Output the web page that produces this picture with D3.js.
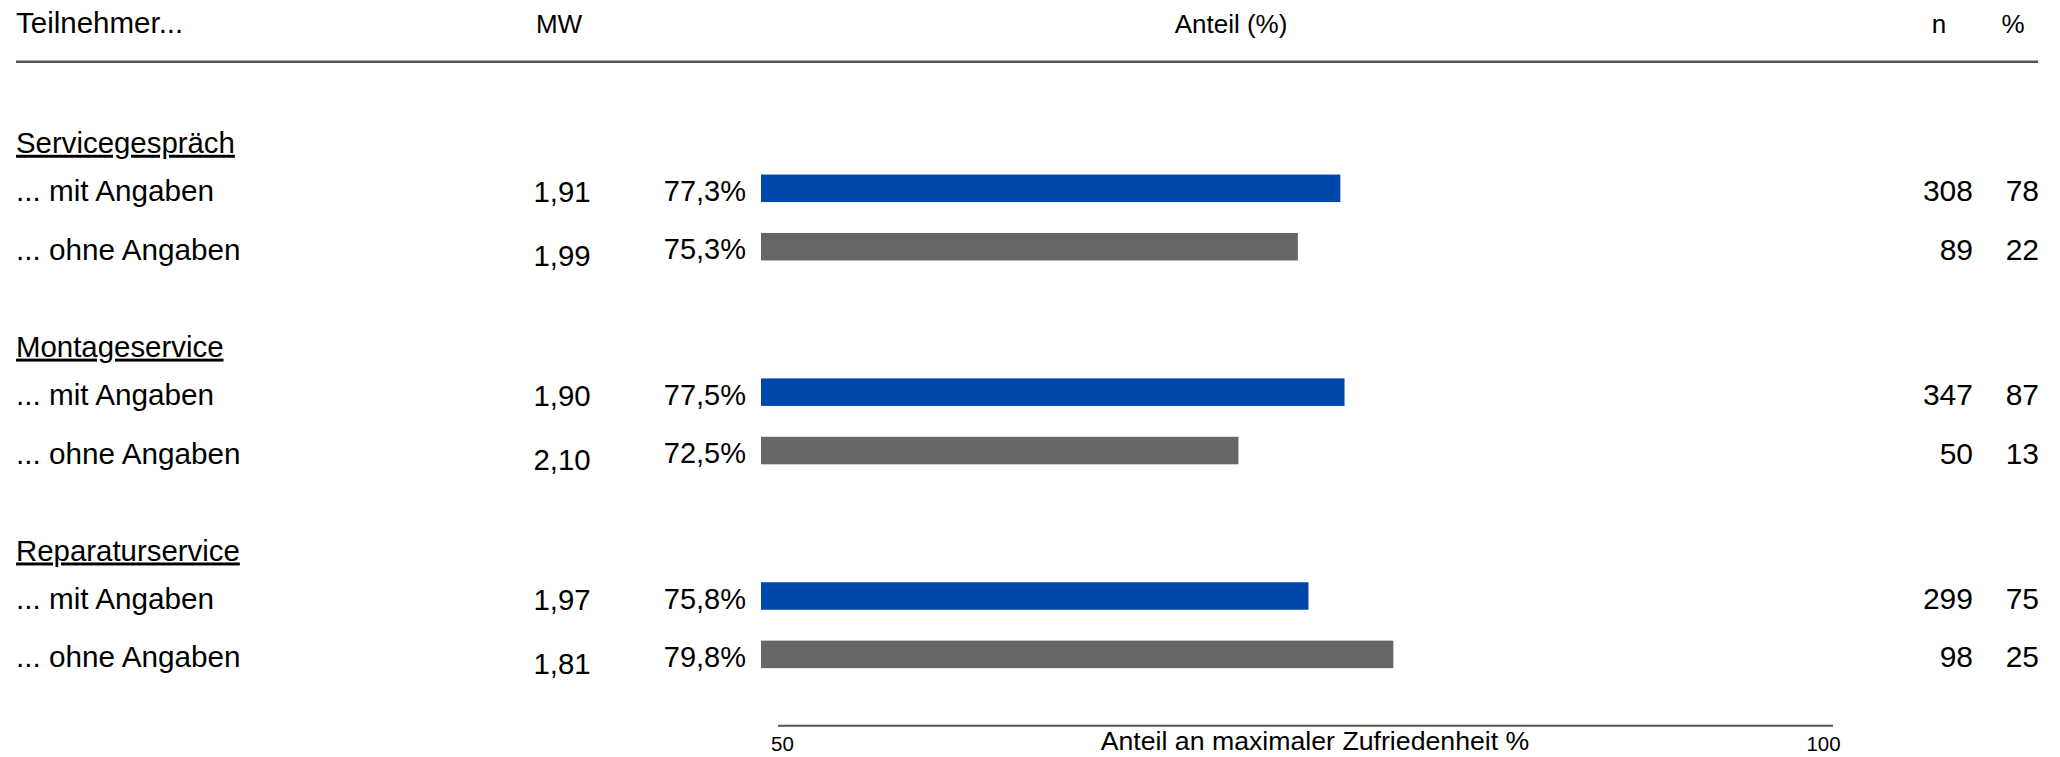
<!DOCTYPE html>
<html>
<head>
<meta charset="utf-8">
<script src="https://cdn.jsdelivr.net/npm/d3@7"></script>
<style>
  html, body { margin: 0; padding: 0; background: #fff; }
  svg { display: block; }
  text { font-family: "Liberation Sans", Arial, sans-serif; fill: #000; }
</style>
</head>
<body>
<svg id="chart" width="2060" height="757"></svg>
<script>
// ---- data ----
const groups = ["Servicegespräch", "Montageservice", "Reparaturservice"];
const subLabels = ["... mit Angaben", "... ohne Angaben"];
const mwValues = [1.91, 1.99, 1.90, 2.10, 1.97, 1.81];
const anteilValues = [77.3, 75.3, 77.5, 72.5, 75.8, 79.8];
const nValues = [308, 89, 347, 50, 299, 98];
const pctValues = [78, 22, 87, 13, 75, 25];
const headerLabels = ["Teilnehmer...", "MW", "Anteil (%)", "n", "%"];
const axisTicks = [50, 100];
const axisTitle = "Anteil an maximaler Zufriedenheit %";

const rows = [];
groups.forEach((g, gi) => subLabels.forEach((s, si) => {
  const i = gi * subLabels.length + si;
  rows.push({ group: g, sub: s, si, mw: mwValues[i], val: anteilValues[i], n: nValues[i], pct: pctValues[i] });
}));

// ---- layout ----
const svg = d3.select("#chart");
const blue = "#0047ab", gray = "#666666", lineCol = "#555555";
const fmt1 = v => d3.format(".1f")(v).replace(".", ",") + "%";
const fmt2 = v => d3.format(".2f")(v).replace(".", ",");

const x = d3.scaleLinear().domain([50, 100]).range([761, 1822]);
const xAxisScale = d3.scaleLinear().domain([50, 100]).range([782, 1823]);
const yGroup = d3.scalePoint().domain(groups).range([188.3, 596]);
const ySub = d3.scalePoint().domain(subLabels).range([0, 58.4]);
const yc = d => yGroup(d.group) + ySub(d.sub);
const barH = 27.5;

const colX = { label: 16, mw: 562, pct: 746, n: 1973, p: 2039 };

// header
const hdr = svg.append("g").attr("font-size", 26);
hdr.append("text").attr("x", colX.label).attr("y", 33).attr("font-size", 29.5).text(headerLabels[0]);
hdr.append("text").attr("x", 559).attr("y", 33).attr("text-anchor", "middle").text(headerLabels[1]);
hdr.append("text").attr("x", 1231).attr("y", 33).attr("text-anchor", "middle").text(headerLabels[2]);
hdr.append("text").attr("x", 1939).attr("y", 33).attr("text-anchor", "middle").text(headerLabels[3]);
hdr.append("text").attr("x", 2013).attr("y", 33).attr("text-anchor", "middle").text(headerLabels[4]);
svg.append("line").attr("x1", 16).attr("x2", 2038).attr("y1", 61.7).attr("y2", 61.7)
  .attr("stroke", lineCol).attr("stroke-width", 2.5);

// group labels
svg.append("g").selectAll("text").data(groups).join("text")
  .attr("x", colX.label).attr("y", g => yGroup(g) - 47 + 11.5)
  .attr("font-size", 29.4)
  .style("text-decoration", "underline")
  .text(g => g);

// rows
const rg = svg.append("g").selectAll("g").data(rows).join("g");
rg.append("text").attr("x", colX.label).attr("y", d => yc(d) + 13).attr("font-size", 29.7).text(d => d.sub);
rg.append("text").attr("x", colX.mw).attr("y", d => yc(d) + 13.5 + d.si * 6).attr("font-size", 29.4)
  .attr("text-anchor", "middle").text(d => fmt2(d.mw));
rg.append("text").attr("x", colX.pct).attr("y", d => yc(d) + 12.5).attr("font-size", 29)
  .attr("text-anchor", "end").text(d => fmt1(d.val));
rg.append("rect")
  .attr("x", x(50)).attr("y", d => yc(d) - barH / 2)
  .attr("width", d => x(d.val) - x(50)).attr("height", barH)
  .attr("fill", d => d.si === 0 ? blue : gray);
rg.append("text").attr("x", colX.n).attr("y", d => yc(d) + 13).attr("font-size", 30)
  .attr("text-anchor", "end").text(d => d.n);
rg.append("text").attr("x", colX.p).attr("y", d => yc(d) + 13).attr("font-size", 30)
  .attr("text-anchor", "end").text(d => d.pct);

// bottom axis
const axisY = 725.7;
const axis = d3.axisBottom(xAxisScale).tickValues(axisTicks).tickSize(0).tickPadding(6)
  .tickFormat(d3.format("d"));
const ag = svg.append("g").attr("transform", `translate(0,${axisY})`).call(axis);
ag.select(".domain").remove();
ag.selectAll(".tick text").attr("font-size", 20.5).attr("font-family", "Liberation Sans, Arial, sans-serif")
  .attr("fill", "#000").attr("dy", "0.95em");
svg.append("line")
  .attr("x1", xAxisScale(50) - 4).attr("x2", xAxisScale(100) + 10)
  .attr("y1", axisY).attr("y2", axisY)
  .attr("stroke", lineCol).attr("stroke-width", 2);
svg.append("text").attr("x", 1315).attr("y", 750).attr("text-anchor", "middle")
  .attr("font-size", 26.7).text(axisTitle);
</script>
</body>
</html>
